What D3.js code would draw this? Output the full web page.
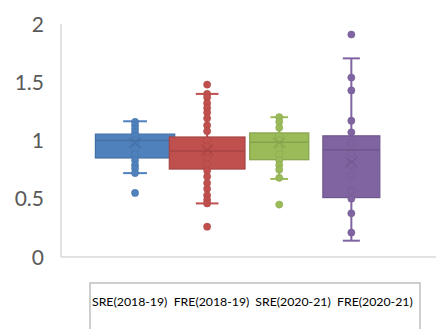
<!DOCTYPE html>
<html><head><meta charset="utf-8">
<script src="https://cdn.jsdelivr.net/npm/d3@7/dist/d3.min.js"></script>
<style>body{margin:0;background:#fff}svg{display:block}</style>
</head><body>
<svg id="c" width="436" height="329"></svg>
<script>
const categories = ["SRE(2018-19)", "FRE(2018-19)", "SRE(2020-21)", "FRE(2020-21)"];
const colors = ["#4f81bd", "#c0504d", "#9bbb59", "#8064a2"];
const whiskerLow  = [0.72, 0.46, 0.67, 0.14];
const q1          = [0.85, 0.755, 0.835, 0.51];
const median      = [1.00, 0.91, 0.985, 0.92];
const q3          = [1.055, 1.03, 1.065, 1.04];
const whiskerHigh = [1.165, 1.40, 1.20, 1.705];
const means       = [0.98, 0.92, 0.98, 0.815];
const pointsSRE1819 = [1.16, 1.13, 1.10, 1.07, 1.04, 1.00, 0.97, 0.93, 0.88, 0.83, 0.79, 0.76, 0.72, 0.55];
const pointsFRE1819 = [1.48, 1.40, 1.37, 1.32, 1.28, 1.24, 1.19, 1.13, 1.08, 1.00, 0.95, 0.90, 0.85, 0.80, 0.74, 0.69, 0.635, 0.585, 0.53, 0.49, 0.46, 0.26];
const pointsSRE2021 = [1.20, 1.16, 1.11, 1.04, 1.00, 0.96, 0.92, 0.88, 0.83, 0.79, 0.75, 0.68, 0.45];
const pointsFRE2021 = [1.91, 1.54, 1.43, 1.17, 1.07, 0.98, 0.89, 0.79, 0.70, 0.57, 0.50, 0.375, 0.21];
const points = [pointsSRE1819, pointsFRE1819, pointsSRE2021, pointsFRE2021];
const yTicks = [0, 0.5, 1, 1.5, 2];

const svg = d3.select("#c");
const y = d3.scaleLinear().domain([0, 2]).range([257, 24]);
const x = d3.scaleBand().domain(categories).range([99, 387.4]).padding(0);
const boxFrac = [1.1, 1.05, 0.82, 0.79];

svg.append("line").attr("x1", 61).attr("x2", 61).attr("y1", y(2)).attr("y2", y(0))
  .attr("stroke", "#d9d9d9").attr("stroke-width", 1.5);
svg.append("line").attr("x1", 61).attr("x2", 436).attr("y1", y(0)).attr("y2", y(0))
  .attr("stroke", "#d9d9d9").attr("stroke-width", 1.5);

svg.selectAll("text.yt").data(yTicks).join("text").attr("class", "yt")
  .attr("x", 44).attr("y", d => y(d)).attr("dy", "0.36em")
  .attr("text-anchor", "end").attr("font-family", "Lato, 'Open Sans', sans-serif")
  .attr("font-size", 21).attr("fill", "#595959").text(d => d);

categories.forEach((cat, i) => {
  const c = colors[i];
  const dark = d3.color(c).darker(0.4).formatHex();
  const cx = x(cat) + x.bandwidth() / 2;
  const w = x.bandwidth() * boxFrac[i];
  const cap = w * 0.3;
  const g = svg.append("g");
  g.append("line").attr("x1", cx).attr("x2", cx).attr("y1", y(whiskerLow[i])).attr("y2", y(whiskerHigh[i]))
    .attr("stroke", c).attr("stroke-width", 2);
  [whiskerLow[i], whiskerHigh[i]].forEach(v => {
    g.append("line").attr("x1", cx - cap / 2).attr("x2", cx + cap / 2).attr("y1", y(v)).attr("y2", y(v))
      .attr("stroke", c).attr("stroke-width", 2);
  });
  g.append("rect").attr("x", cx - w / 2).attr("width", w).attr("y", y(q3[i])).attr("height", y(q1[i]) - y(q3[i]))
    .attr("fill", c).attr("stroke", dark).attr("stroke-width", 1.2);
  g.selectAll("circle").data(points[i]).join("circle")
    .attr("cx", cx).attr("cy", d => y(d)).attr("r", 3.6)
    .attr("fill", c).attr("stroke", dark).attr("stroke-opacity", 0.6).attr("stroke-width", 0.8);
  g.append("line").attr("x1", cx - w / 2).attr("x2", cx + w / 2).attr("y1", y(median[i])).attr("y2", y(median[i]))
    .attr("stroke", dark).attr("stroke-width", 1.5);
  const mx = 6, my = 5, my0 = y(means[i]);
  g.append("path").attr("d", `M${cx - mx},${my0 - my}L${cx + mx},${my0 + my}M${cx - mx},${my0 + my}L${cx + mx},${my0 - my}`)
    .attr("stroke", dark).attr("stroke-opacity", 0.8).attr("stroke-width", 1.3).attr("fill", "none");
});

svg.append("rect").attr("x", 90).attr("y", 283).attr("width", 330).attr("height", 60)
  .attr("fill", "#fff").attr("stroke", "#bfbfbf").attr("stroke-width", 1.5);
const lx = d3.scalePoint().domain(categories).range([92, 337]);
svg.selectAll("text.cat").data(categories).join("text").attr("class", "cat")
  .attr("x", d => lx(d)).attr("y", 306).attr("font-family", "Lato, 'Open Sans', sans-serif")
  .attr("font-size", 12.3).attr("fill", "#000").text(d => d);
</script>
</body></html>
